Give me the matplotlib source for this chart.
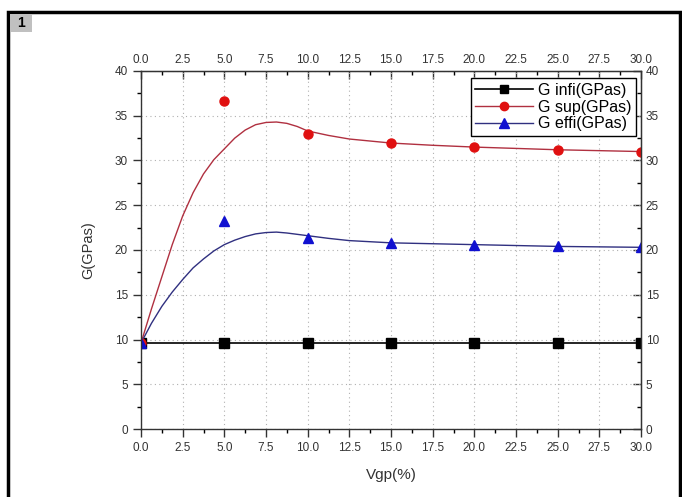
import numpy as np
import matplotlib
matplotlib.use('Agg')
from matplotlib import pyplot as plt
from matplotlib.patches import Rectangle

plt.rcParams['font.family'] = ['Liberation Sans', 'DejaVu Sans']

# measured points
vgp = [0, 5, 10, 15, 20, 25, 30]
g_infi = [9.6, 9.6, 9.6, 9.6, 9.6, 9.6, 9.6]
g_sup = [9.6, 36.6, 33.0, 32.0, 31.5, 31.2, 31.0]
g_effi = [9.6, 23.2, 21.3, 20.8, 20.6, 20.4, 20.3]

# fitted curves
fit_x = [0, 0.625, 1.25, 1.875, 2.5, 3.125, 3.75, 4.375, 5, 5.625, 6.25, 6.875, 7.5, 8.125,
         8.75, 9.375, 10, 11.25, 12.5, 15, 17.5, 20, 22.5, 25, 27.5, 30]
fit_sup = [9.6, 13.4, 17.0, 20.6, 23.8, 26.4, 28.5, 30.1, 31.3, 32.5, 33.4, 34.0, 34.25, 34.3,
           34.15, 33.8, 33.3, 32.8, 32.4, 31.95, 31.7, 31.5, 31.35, 31.2, 31.1, 31.0]
fit_effi = [9.6, 11.8, 13.7, 15.3, 16.7, 18.0, 19.0, 19.9, 20.6, 21.1, 21.5, 21.8, 21.95, 22.0,
            21.9, 21.75, 21.6, 21.3, 21.05, 20.8, 20.7, 20.6, 20.5, 20.4, 20.35, 20.3]

fig = plt.figure(figsize=(6.82, 4.97), dpi=100)
ax = fig.add_axes([141/682, 1-429/497, 500/682, 358/497])

ax.plot(vgp, g_infi, color='black', lw=1.2, marker='s', ms=6.5)
ax.plot(fit_x, fit_sup, color='#b03040', lw=1.0)
ax.plot(fit_x, fit_effi, color='#303080', lw=1.0)
ax.plot(vgp, g_sup, ls='none', marker='o', ms=6.5, color='#e01010')
ax.plot(vgp, g_effi, ls='none', marker='^', ms=7.5, color='#1010d0')

# legend handles: line + marker
h1, = ax.plot([], [], color='black', lw=1.2, marker='s', ms=6)
h2, = ax.plot([], [], color='#b03040', lw=1.0, marker='o', ms=6, mfc='#e01010', mec='#e01010')
h3, = ax.plot([], [], color='#303080', lw=1.0, marker='^', ms=7, mfc='#1010d0', mec='#1010d0')
leg = ax.legend([h1, h2, h3], ['G infi(GPas)', 'G sup(GPas)', 'G effi(GPas)'],
                loc='upper right', bbox_to_anchor=(0.99, 0.98), borderaxespad=0, fontsize=11.5,
                fancybox=False, edgecolor='black', framealpha=1,
                handlelength=3.6, labelspacing=0.1, borderpad=0.3, handletextpad=0.3)
leg.get_frame().set_linewidth(1.0)

ax.set_xlim(0, 30)
ax.set_ylim(0, 40)
ax.set_xticks(np.arange(0, 30.1, 2.5))
ax.set_xticks(np.arange(1.25, 30, 2.5), minor=True)
ax.set_yticks(np.arange(0, 41, 5))
ax.set_yticks(np.arange(2.5, 40, 5), minor=True)
ax.set_xticklabels(['%.1f' % v for v in np.arange(0, 30.1, 2.5)])
ax.tick_params(which='major', direction='out', length=6, width=1, labelsize=8.5, colors='#333333')
ax.tick_params(which='minor', direction='out', length=3, width=1)
ax.grid(True, which='major', ls=(0, (1, 3)), color='#b0b0b0', lw=0.8)

top = ax.secondary_xaxis('top')
top.set_xticks(np.arange(0, 30.1, 2.5))
top.set_xticks(np.arange(1.25, 30, 2.5), minor=True)
top.set_xticklabels(['%.1f' % v for v in np.arange(0, 30.1, 2.5)])
top.tick_params(which='major', direction='in', length=6, width=1, labelsize=8.5, colors='#333333')
top.tick_params(which='minor', direction='in', length=3, width=1)

right = ax.secondary_yaxis('right')
right.set_yticks(np.arange(0, 41, 5))
right.set_yticks(np.arange(2.5, 40, 5), minor=True)
right.tick_params(which='major', direction='in', length=6, width=1, labelsize=8.5, colors='#333333')
right.tick_params(which='minor', direction='in', length=3, width=1)

for s in ax.spines.values():
    s.set_linewidth(1.0)
    s.set_color('#333333')

ax.set_xlabel('Vgp(%)', fontsize=11, color='#333333', labelpad=10)
ax.set_ylabel('G(GPas)', fontsize=10.5, color='#333333', labelpad=14)

# outer frame and panel number
fig.patches.append(Rectangle((8/682, -0.05), 672/682, 1.05 - 12/497, transform=fig.transFigure,
                             fill=False, edgecolor='black', lw=2.5))
fig.patches.append(Rectangle((10/682, 1-32/497), 22/682, 18/497, transform=fig.transFigure,
                             facecolor='#c0c0c0', edgecolor='none'))
fig.text(21/682, 1-23/497, '1', ha='center', va='center', fontsize=10, fontweight='bold')

fig.savefig('out.png', dpi=100)
